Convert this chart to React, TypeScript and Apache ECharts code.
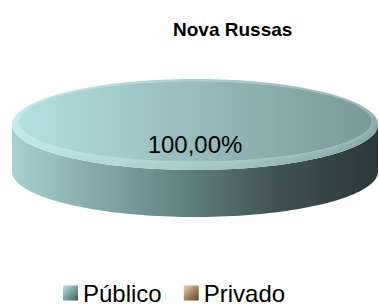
import React, { useEffect, useRef } from "react";
import * as echarts from "echarts";

const chartTitle = "Nova Russas";
const categories = ["Público", "Privado"];
const values = [100, 0];

// per-category palettes: [topLight, topDark, sideLight, sideMid, sideDark, legendLight, legendDark, rimLight, rimDark]
const palettes = [
  ["#b2e0e0", "#7a9899", "#a6d1d1", "#6b8e8f", "#2b3738", "#b9e4e4", "#3f5a5b", "#c2eaea", "#88a8a8"],
  ["#f0c79c", "#a7815a", "#e0b88e", "#9a7450", "#3d2c1c", "#f2cfa6", "#5c4026", "#f6d5b0", "#b38d66"],
];

const FONT = "Arial, 'Liberation Sans', sans-serif";

export default function App() {
  const ref = useRef<HTMLDivElement>(null);
  useEffect(() => {
    if (!ref.current) return;
    const chart = echarts.init(ref.current, null, { renderer: "svg" });
    const total = values.reduce((a, b) => a + b, 0);
    const cx = 195, cy = 124.5, rx = 183, ry = 45.5, depth = 47;
    const pt = (t: number, dy = 0, sx = 1, sy = 1, oy = 0) => [
      cx + rx * sx * Math.cos(t),
      cy + oy + ry * sy * Math.sin(t) + dy,
    ];
    const arcPts = (t0: number, t1: number, dy = 0, sx = 1, sy = 1, oy = 0) => {
      const n = Math.max(8, Math.ceil(((t1 - t0) / (2 * Math.PI)) * 180));
      const out: number[][] = [];
      for (let k = 0; k <= n; k++) out.push(pt(t0 + ((t1 - t0) * k) / n, dy, sx, sy, oy));
      return out;
    };
    const fmt = (v: number) => v.toFixed(2).replace(".", ",") + "%";

    const makeSeries = (idx: number) => ({
      type: "custom",
      name: categories[idx],
      coordinateSystem: "none",
      data: [values[idx]],
      itemStyle: { color: palettes[idx][3] },
      renderItem: (params: any, api: any) => {
        const v = values[idx];
        if (!v || !total) return { type: "group", children: [] };
        const cum = values.slice(0, idx).reduce((a, b) => a + b, 0);
        const t0 = -Math.PI / 2 + (2 * Math.PI * cum) / total;
        const t1 = t0 + (2 * Math.PI * v) / total;
        const full = v >= total;
        const pal = palettes[idx];
        const children: any[] = [];
        // side walls (front half visible)
        for (let k = -1; k <= 1; k++) {
          const a = Math.max(t0, 2 * Math.PI * k);
          const b = Math.min(t1, 2 * Math.PI * k + Math.PI);
          if (b > a) {
            const top = arcPts(a, b);
            const bot = arcPts(a, b, depth).reverse();
            children.push({
              type: "polygon",
              shape: { points: top.concat(bot) },
              style: {
                fill: new echarts.graphic.LinearGradient(0, 0, 1, 0, [
                  { offset: 0, color: pal[2] },
                  { offset: 0.4, color: pal[3] },
                  { offset: 0.72, color: "#3f5354" },
                  { offset: 1, color: pal[4] },
                ]),
              },
            });
          }
        }
        // top face (rim)
        const topPts = full ? arcPts(t0, t1) : [[cx, cy]].concat(arcPts(t0, t1));
        children.push({
          type: "polygon",
          shape: { points: topPts },
          style: {
            fill: new echarts.graphic.LinearGradient(0, 0, 1, 0, [
              { offset: 0, color: pal[7] },
              { offset: 1, color: pal[8] },
            ]),
          },
        });
        // inner face
        const innerPts = full
          ? arcPts(t0, t1, 0, 0.965, 0.88, -3)
          : [[cx, cy - 3]].concat(arcPts(t0, t1, 0, 0.965, 0.88, -3));
        children.push({
          type: "polygon",
          shape: { points: innerPts },
          style: {
            fill: new echarts.graphic.LinearGradient(0, 0, 1, 0, [
              { offset: 0, color: pal[0] },
              { offset: 1, color: pal[1] },
            ]),
            shadowBlur: 5,
            shadowColor: "rgba(200,235,235,0.6)",
          },
        });
        // label
        const mid = (t0 + t1) / 2;
        const lp = full ? [cx, cy + 20] : pt(mid, 0, 0.6, 0.6);
        children.push({
          type: "text",
          x: lp[0],
          y: lp[1],
          style: {
            text: fmt((100 * v) / total),
            fill: "#000",
            fontSize: 24,
            fontFamily: FONT,
            align: "center",
            verticalAlign: "middle",
          },
        });
        return { type: "group", children };
      },
    });

    chart.setOption({
      animation: false,
      title: {
        text: chartTitle,
        left: 168,
        top: 15,
        textStyle: { fontSize: 19, fontWeight: "bold", fontFamily: FONT, color: "#000" },
      },
      legend: {
        left: 58,
        top: 276,
        itemWidth: 15,
        itemHeight: 15,
        itemGap: 22,
        icon: "rect",
        textStyle: { fontSize: 24, fontFamily: FONT, color: "#000" },
        data: categories.map((c, i) => ({
          name: c,
          itemStyle: {
            color: new echarts.graphic.LinearGradient(0, 0, 1, 1, [
              { offset: 0, color: palettes[i][5] },
              { offset: 1, color: palettes[i][6] },
            ]),
          },
        })),
      },
      series: categories.map((_, i) => makeSeries(i)),
    });
    return () => chart.dispose();
  }, []);
  return (
    <div
      ref={ref}
      style={{ position: "fixed", left: 0, top: 0, width: 379, height: 305, background: "#fff" }}
    />
  );
}
